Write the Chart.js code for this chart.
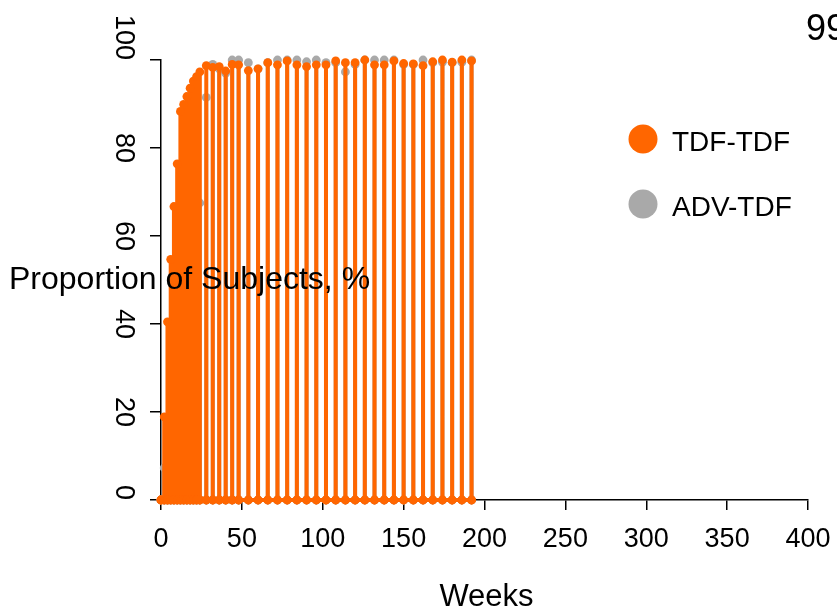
<!DOCTYPE html>
<html>
<head>
<meta charset="utf-8">
<title>Proportion of Subjects</title>
<script src="https://cdn.jsdelivr.net/npm/chart.js"></script>
<style>
  html, body { margin: 0; padding: 0; background: #fff; overflow: hidden; }
  #chart { display: block; }
</style>
</head>
<body>
<canvas id="chart" width="837" height="609"></canvas>
<script>
// weeks of each visit
var weeks = [0, 2, 4, 6, 8, 10, 12, 14, 16, 18, 20, 22, 24, 28, 32, 36, 40, 44, 48,
  54, 60, 66, 72, 78, 84, 90, 96, 102, 108, 114, 120, 126, 132, 138, 144, 150,
  156, 162, 168, 174, 180, 186, 192];
// TDF-TDF, %
var tdfTdf = [0, 18.9, 40.5, 54.7, 66.7, 76.4, 88.3, 89.9, 91.7, 93.6, 95.2, 96.2, 97.3,
  98.7, 98.3, 98.5, 97.5, 99.0, 98.9,
  97.6, 98.0, 99.4, 98.9, 99.8, 98.9, 98.5, 98.9, 98.9, 99.8, 99.4, 99.4, 100,
  98.9, 98.9, 99.8, 99.2, 99.1, 98.7, 99.6, 100, 99.5, 100, 99.8];
// ADV-TDF, %
var advTdf = [0, 7.3, 18, 38, 52, 64, 75, 86, 88, 90, 92, 94, 67.5,
  91.5, 99.0, 98.0, 97.0, 100, 100,
  99.4, 98.0, 99.4, 100, 100, 100, 99.6, 100, 99.4, 99.4, 97.3, 99.0, 100,
  100, 100, 100, 99.0, 99.0, 100, 99.4, 99.5, 99.4, 99.5, 100];
var seriesNames = ["TDF-TDF", "ADV-TDF"];
var xTicks = [0, 50, 100, 150, 200, 250, 300, 350, 400];
var yTicks = [0, 20, 40, 60, 80, 100];

var ORANGE = "#ff6600";
var GREY = "#a9a9a9";
var FONT = "'Liberation Sans', Arial, Helvetica, sans-serif";

init();

function init() {
  Chart.defaults.font.family = FONT;
  Chart.defaults.color = "#000";
  drawChart();
}

// each visit becomes a stem: 0 -> value -> 0
function toStems(xs, ys) {
  var pts = [];
  for (var i = 0; i < xs.length; i++) {
    pts.push({x: xs[i], y: 0});
    pts.push({x: xs[i], y: ys[i]});
    pts.push({x: xs[i], y: 0});
  }
  return pts;
}

function drawChart() {
  // extra text: rotated y labels, axis titles, legend, corner note
  var decor = {
    id: "decor",
    afterDraw: function(chart) {
      var c = chart.ctx;
      var ys = chart.scales.y;
      var area = chart.chartArea;
      c.save();
      c.fillStyle = "#000";

      // y tick labels, parallel to the axis (end labels finish at their tick)
      c.font = "27px " + FONT;
      c.textBaseline = "middle";
      yTicks.forEach(function(t, i) {
        c.save();
        c.translate(123, ys.getPixelForValue(t));
        c.rotate(Math.PI / 2);
        c.textAlign = (i === 0 || i === yTicks.length - 1) ? "right" : "center";
        c.fillText(String(t), 0, 0);
        c.restore();
      });

      // axis titles
      c.textAlign = "center";
      c.font = "31px " + FONT;
      c.fillText("Weeks", (area.left + area.right) / 2 + 2, 597);
      c.textAlign = "left";
      c.font = "32px " + FONT;
      c.fillText("Proportion of Subjects, %", 9, 280);

      // legend
      var ds = chart.data.datasets;
      var ly = [139, 204];
      c.font = "28px " + FONT;
      for (var i = 0; i < ds.length; i++) {
        c.beginPath();
        c.fillStyle = ds[i].borderColor;
        c.arc(643, ly[i], 14.5, 0, Math.PI * 2);
        c.fill();
        c.fillStyle = "#000";
        c.fillText(ds[i].label, 672, ly[i] + 4);
      }

      // note in the corner (cut off by the edge)
      c.font = "36px " + FONT;
      c.fillText("99", 806, 30);
      c.restore();
    }
  };

  new Chart(document.getElementById("chart"), {
    type: "line",
    data: {
      datasets: [{
        label: seriesNames[0],
        data: toStems(weeks, tdfTdf),
        borderColor: ORANGE,
        backgroundColor: ORANGE,
        borderWidth: 4,
        pointRadius: 4.4,
        pointBorderWidth: 0,
        clip: false
      }, {
        label: seriesNames[1],
        data: toStems(weeks, advTdf),
        borderColor: GREY,
        backgroundColor: GREY,
        borderWidth: 4,
        pointRadius: 4.4,
        pointBorderWidth: 0,
        clip: false
      }]
    },
    options: {
      responsive: false,
      animation: false,
      devicePixelRatio: 1,
      layout: {padding: {top: 60, right: 29, left: 0, bottom: 0}},
      plugins: {legend: {display: false}, tooltip: {enabled: false}},
      scales: {
        x: {
          type: "linear",
          min: 0,
          max: 400,
          afterBuildTicks: function(s) { s.ticks = xTicks.map(function(v) { return {value: v}; }); },
          afterFit: function(s) { s.height = 109; s.paddingLeft = 0; s.paddingRight = 0; },
          border: {display: true, color: "#000", width: 1.5},
          grid: {drawOnChartArea: false, drawTicks: true, tickLength: 10, color: "#000", lineWidth: 1.5},
          ticks: {font: {size: 27}, color: "#000", padding: 13, maxRotation: 0}
        },
        y: {
          min: 0,
          max: 100,
          afterBuildTicks: function(s) { s.ticks = yTicks.map(function(v) { return {value: v}; }); },
          afterFit: function(s) { s.width = 161; s.paddingTop = 0; s.paddingBottom = 0; },
          border: {display: true, color: "#000", width: 1.5},
          grid: {drawOnChartArea: false, drawTicks: true, tickLength: 11, color: "#000", lineWidth: 1.5},
          ticks: {font: {size: 27}, color: "transparent"}
        }
      }
    },
    plugins: [decor]
  });
}
</script>
</body>
</html>
